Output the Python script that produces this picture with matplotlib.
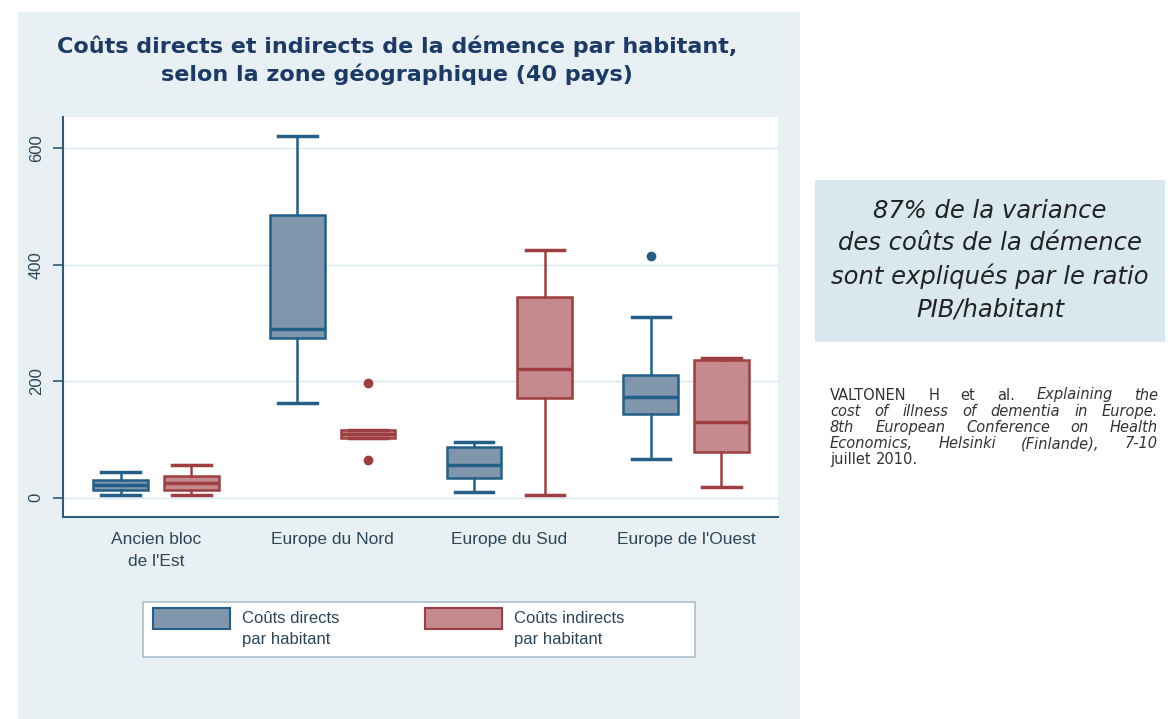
import matplotlib
matplotlib.use("Agg")
import matplotlib.pyplot as plt
from matplotlib.patches import Rectangle

# zones and series
zones = ["Ancien bloc\nde l'Est", "Europe du Nord", "Europe du Sud", "Europe de l'Ouest"]
series = ["Coûts directs\npar habitant", "Coûts indirects\npar habitant"]

# box statistics (cost per inhabitant)
direct_low = [5, 163, 9, 66]
direct_q1 = [14, 274, 34, 144]
direct_med = [22, 290, 57, 173]
direct_q3 = [31, 486, 87, 211]
direct_high = [45, 620, 95, 310]
direct_out = [[], [], [], [414]]

indirect_low = [5, 103, 5, 19]
indirect_q1 = [14, 103, 171, 78]
indirect_med = [26, 110, 221, 130]
indirect_q3 = [37, 117, 344, 237]
indirect_high = [56, 117, 425, 240]
indirect_out = [[], [197, 65], [], []]

yticks = [0, 200, 400, 600]

blue_fill, blue_edge = "#8096ad", "#245f88"
red_fill, red_edge = "#c58a8d", "#9e3e40"
panel_bg = "#e8f0f3"
label_col = "#2c4658"

W, H = 1168, 719


def px(x, y):
    # pixel position (from top left) -> figure fraction
    return x / W, 1 - y / H


def make_stats(low, q1, med, q3, high, out):
    return [dict(whislo=low[i], q1=q1[i], med=med[i], q3=q3[i], whishi=high[i], fliers=out[i])
            for i in range(len(low))]


fig = plt.figure(figsize=(W / 100, H / 100), dpi=100)
fig.patch.set_facecolor("white")
fig.patches.append(Rectangle(px(18, 719), 782 / W, 707 / H, transform=fig.transFigure,
                             facecolor=panel_bg, edgecolor="none", zorder=-10))
fig.patches.append(Rectangle(px(815, 342), 350 / W, 162 / H, transform=fig.transFigure,
                             facecolor="#d9e8ee", edgecolor="none", zorder=-10))

ax = fig.add_axes([0.054, 0.281, 0.612, 0.556])
ax.set_facecolor("white")

pos = list(range(len(zones)))
off = 0.2
w = 0.31
for stats, shift, fc, ec in [
    (make_stats(direct_low, direct_q1, direct_med, direct_q3, direct_high, direct_out), -off, blue_fill, blue_edge),
    (make_stats(indirect_low, indirect_q1, indirect_med, indirect_q3, indirect_high, indirect_out), off, red_fill, red_edge),
]:
    ax.bxp(stats, positions=[p + shift for p in pos], widths=w, patch_artist=True,
           showfliers=True, capwidths=w * 0.7,
           boxprops=dict(facecolor=fc, edgecolor=ec, linewidth=1.8),
           medianprops=dict(color=ec, linewidth=2.5),
           whiskerprops=dict(color=ec, linewidth=1.8),
           capprops=dict(color=ec, linewidth=2.5),
           flierprops=dict(marker="o", markerfacecolor=ec, markeredgecolor=ec, markersize=6))

ax.set_xlim(-0.526, 3.52)
ax.set_ylim(-33, 653)
ax.set_yticks(yticks)
ax.set_yticklabels([str(t) for t in yticks], rotation=90, va="center", fontsize=12,
                   color=label_col, family="Liberation Sans")
ax.set_xticks(pos)
ax.set_xticklabels(zones, fontsize=12.5, color=label_col, family="Liberation Sans", linespacing=1.6)
ax.tick_params(axis="x", length=0, pad=11)
ax.tick_params(axis="y", length=7, width=1.2, color="#2f5a78", pad=7)
ax.grid(axis="y", color="#dbe8f0", linewidth=1)
ax.set_axisbelow(True)
for s in ["top", "right"]:
    ax.spines[s].set_visible(False)
for s in ["left", "bottom"]:
    ax.spines[s].set_color("#2f5a78")
    ax.spines[s].set_linewidth(1.5)

tx, ty = px(397, 60)
fig.text(tx, ty, "Coûts directs et indirects de la démence par habitant,\nselon la zone géographique (40 pays)",
         ha="center", va="center", fontsize=16, fontweight="bold", color="#1c3a66",
         family="DejaVu Sans", linespacing=1.35)

# legend drawn as a framed key below the plot
fig.patches.append(Rectangle(px(143, 657), 552 / W, 55 / H, transform=fig.transFigure,
                             facecolor="white", edgecolor="#a9bfcc", linewidth=1.2))
for x0, fc, ec, lab in [(153, blue_fill, blue_edge, series[0]), (425, red_fill, red_edge, series[1])]:
    fig.patches.append(Rectangle(px(x0, 629), 77 / W, 21 / H, transform=fig.transFigure,
                                 facecolor=fc, edgecolor=ec, linewidth=1.5))
    lx, ly = px(x0 + 89, 611)
    fig.text(lx, ly, lab, ha="left", va="top", fontsize=12, color=label_col,
             family="Liberation Sans", linespacing=1.5)

bx, by = px(990, 260)
fig.text(bx, by, "87% de la variance\ndes coûts de la démence\nsont expliqués par le ratio\nPIB/habitant",
         ha="center", va="center", fontsize=17.5, style="italic", color="#222222",
         family="DejaVu Sans", linespacing=1.42)

# justified reference text
cite = [
    ([("VALTONEN", "normal"), ("H", "normal"), ("et", "normal"), ("al.", "normal"),
      ("Explaining", "italic"), ("the", "italic")], True),
    ([(t, "italic") for t in "cost of illness of dementia in Europe.".split()], True),
    ([(t, "italic") for t in "8th European Conference on Health".split()], True),
    ([(t, "italic") for t in "Economics, Helsinki (Finlande), 7-10".split()], True),
    ([(t, "normal") for t in "juillet 2010.".split()], False),
]
x_left, x_right = 830, 1158
renderer = fig.canvas.get_renderer()
for i, (words, justify) in enumerate(cite):
    yy = px(0, 395 + 16.2 * i)[1]
    texts = [fig.text(0, yy, wd, ha="left", va="center", fontsize=10.5, style=st,
                      family="DejaVu Sans", color="#333333") for wd, st in words]
    widths = [t.get_window_extent(renderer).width for t in texts]
    space = 5.0
    if justify and len(texts) > 1:
        space = (x_right - x_left - sum(widths)) / (len(texts) - 1)
    x = x_left
    for t, wd in zip(texts, widths):
        t.set_x(x / W)
        x += wd + space

fig.savefig("out.png", dpi=100, facecolor=fig.get_facecolor())
